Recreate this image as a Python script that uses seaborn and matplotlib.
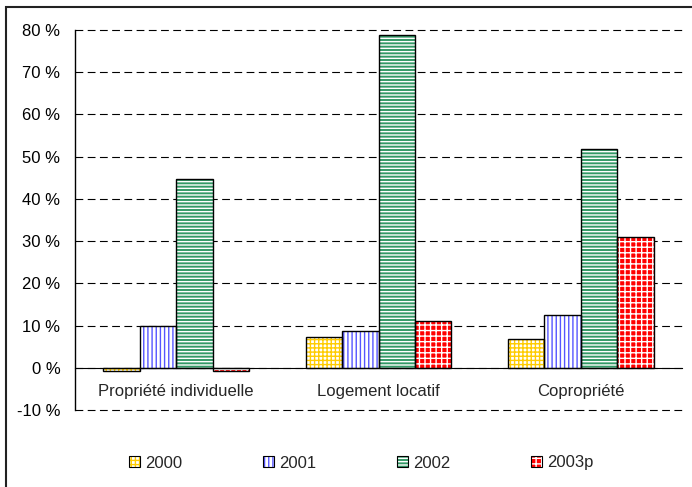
import numpy as np
import pandas as pd
import matplotlib.pyplot as plt
import seaborn as sns
from matplotlib.patches import Patch, Rectangle

# data (percent change)
categories = ['Propriété individuelle', 'Logement locatif', 'Copropriété']
years = ['2000', '2001', '2002', '2003p']
v2000 = [-0.7, 7.2, 6.9]
v2001 = [9.8, 8.6, 12.6]
v2002 = [44.6, 78.9, 51.9]
v2003 = [-0.7, 11.1, 31.0]

df = pd.DataFrame({
    'cat': categories * 4,
    'year': np.repeat(years, 3),
    'val': v2000 + v2001 + v2002 + v2003,
})

# (face, hatch colour, hatch)
styles = {
    '2000': ('white', '#FFCC00', '++++'),
    '2001': ('white', '#5555FF', '||||'),
    '2002': ('#339966', 'white', '-----'),
    '2003p': ('#FF0000', 'white', '+++'),
}

sns.set_style('white')
plt.rcParams['font.family'] = ['Liberation Sans', 'DejaVu Sans']
plt.rcParams['hatch.linewidth'] = 1.0
fs = 12

fig = plt.figure(figsize=(6.92, 4.87), dpi=100)
ax = fig.add_axes([75/692, 1-410/487, (682-75)/692, (410-30)/487])

sns.barplot(data=df, x='cat', y='val', hue='year', order=categories,
            hue_order=years, width=0.72, gap=0, ax=ax, legend=False,
            errorbar=None)

for cont, yr in zip(ax.containers, years):
    face, hc, hatch = styles[yr]
    for p in cont:
        p.set_facecolor(face)
        p.set_edgecolor(hc)
        p.set_hatch(hatch)
        p.set_linewidth(0)
        ax.add_patch(Rectangle(p.get_xy(), p.get_width(), p.get_height(),
                               fill=False, edgecolor='black', lw=1.0, zorder=3))

ax.set_ylim(-10, 80)
ax.set_xlim(-0.5, 2.5)
ax.set_yticks(range(-10, 81, 10))
ax.set_yticklabels([f'{v} %' for v in range(-10, 81, 10)], fontsize=fs)
for v in range(-10, 81, 10):
    ax.axhline(v, color='black', lw=0.8, ls=(0, (7, 4)), zorder=0, clip_on=False)

ax.spines['top'].set_visible(False)
ax.spines['right'].set_visible(False)
ax.spines['bottom'].set_position(('data', 0))
ax.spines['left'].set_linewidth(1.0)
ax.spines['left'].set_color('black')
ax.spines['bottom'].set_color('black')
ax.spines['bottom'].set_zorder(4)

ax.tick_params(axis='y', direction='out', length=4, width=1, pad=6.5, colors='black')
ax.set_xticks([-0.5, 0.5, 1.5, 2.5], minor=True)
ax.tick_params(axis='x', which='minor', direction='out', length=4, width=1)
ax.tick_params(axis='x', which='major', length=0, pad=11.5, labelsize=fs)
ax.set_xlabel('')
ax.set_ylabel('')

handles = []
for yr in years:
    face, hc, hatch = styles[yr]
    handles.append((Patch(facecolor=face, edgecolor=hc, hatch=hatch, lw=0),
                    Patch(fill=False, edgecolor='black', lw=0.8)))
fig.legend(handles, years, loc='center', bbox_to_anchor=(361/692, 1-463/487),
           ncol=4, frameon=False, fontsize=fs, handlelength=0.66,
           handleheight=0.66, handletextpad=0.3, columnspacing=4.85)

# outer chart border
fig.patches.append(Rectangle((6/692, -0.05), 1.0, 1-7/487+0.05,
                             transform=fig.transFigure, fill=False,
                             edgecolor='#222222', lw=1.5))

plt.savefig('out.png', dpi=100)
